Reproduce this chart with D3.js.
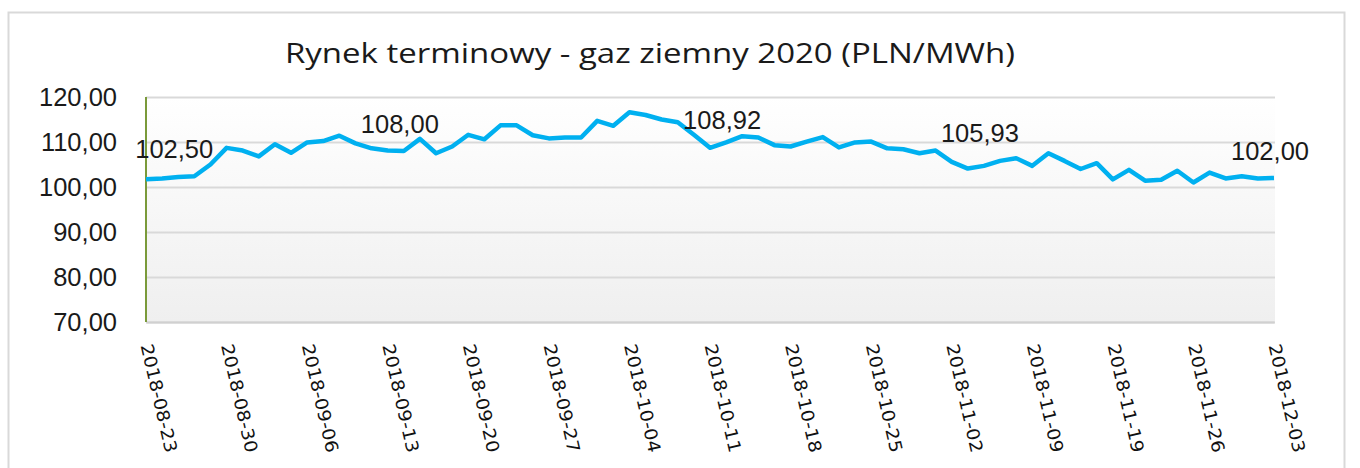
<!DOCTYPE html>
<html>
<head>
<meta charset="utf-8">
<script src="https://cdn.jsdelivr.net/npm/d3@7"></script>
<style>
  body { margin: 0; background: #fff; }
  svg { display: block; }
</style>
</head>
<body>
<svg id="chart" width="1360" height="468"></svg>
<script>
const title = "Rynek terminowy - gaz ziemny 2020 (PLN/MWh)";

// trading days (category axis)
const dates = [
  "2018-08-23", "2018-08-24", "2018-08-27", "2018-08-28", "2018-08-29",
  "2018-08-30", "2018-08-31", "2018-09-03", "2018-09-04", "2018-09-05",
  "2018-09-06", "2018-09-07", "2018-09-10", "2018-09-11", "2018-09-12",
  "2018-09-13", "2018-09-14", "2018-09-17", "2018-09-18", "2018-09-19",
  "2018-09-20", "2018-09-21", "2018-09-24", "2018-09-25", "2018-09-26",
  "2018-09-27", "2018-09-28", "2018-10-01", "2018-10-02", "2018-10-03",
  "2018-10-04", "2018-10-05", "2018-10-08", "2018-10-09", "2018-10-10",
  "2018-10-11", "2018-10-12", "2018-10-15", "2018-10-16", "2018-10-17",
  "2018-10-18", "2018-10-19", "2018-10-22", "2018-10-23", "2018-10-24",
  "2018-10-25", "2018-10-26", "2018-10-29", "2018-10-30", "2018-10-31",
  "2018-11-02", "2018-11-05", "2018-11-06", "2018-11-07", "2018-11-08",
  "2018-11-09", "2018-11-13", "2018-11-14", "2018-11-15", "2018-11-16",
  "2018-11-19", "2018-11-20", "2018-11-21", "2018-11-22", "2018-11-23",
  "2018-11-26", "2018-11-27", "2018-11-28", "2018-11-29", "2018-11-30",
  "2018-12-03",
];

const prices = [
  101.7, 101.9, 102.2, 102.4, 105.0, 108.7, 108.1, 106.8, 109.5, 107.6,
  109.9, 110.2, 111.4, 109.7, 108.6, 108.1, 108.0, 110.7, 107.5, 109.0,
  111.6, 110.6, 113.7, 113.7, 111.5, 110.8, 111.0, 111.0, 114.7, 113.6,
  116.6, 116.0, 115.0, 114.4, 111.6, 108.7, 109.9, 111.3, 111.0, 109.3,
  109.0, 110.1, 111.1, 108.8, 109.9, 110.1, 108.6, 108.4, 107.5, 108.1,
  105.6, 104.1, 104.7, 105.8, 106.4, 104.7, 107.5, 105.8, 104.0, 105.3,
  101.7, 103.8, 101.4, 101.6, 103.6, 101.0, 103.2, 101.9, 102.4, 101.9,
  102.0,
];

const yTicks = [70, 80, 90, 100, 110, 120];
const xTickDates = dates.filter((d, i) => i % 5 === 0);

// data labels: category and the value shown
const labelDates = ["2018-08-27", "2018-09-14", "2018-10-12", "2018-11-06", "2018-12-03"];
const labelValues = [102.5, 108.0, 108.92, 105.93, 102.0];

const pl = d3.formatLocale({ decimal: ",", thousands: " ", grouping: [3], currency: ["", " zł"] });
const fmt = pl.format(".2f");

const svg = d3.select("#chart");
const margin = { left: 146, right: 1274, top: 97, bottom: 322 };

const x = d3.scalePoint().domain(dates).range([margin.left, margin.right]);
const y = d3.scaleLinear().domain([70, 120]).range([margin.bottom, margin.top]);

// outer chart frame
svg.append("rect")
  .attr("x", 8.5).attr("y", 12.5)
  .attr("width", 1336).attr("height", 480)
  .attr("fill", "#fff")
  .attr("stroke", "#d9d9d9")
  .attr("stroke-width", 2);

// plot area gradient
const grad = svg.append("defs").append("linearGradient")
  .attr("id", "plotbg").attr("x1", 0).attr("y1", 0).attr("x2", 0).attr("y2", 1);
grad.append("stop").attr("offset", "0%").attr("stop-color", "#ffffff");
grad.append("stop").attr("offset", "100%").attr("stop-color", "#efefef");

svg.append("rect")
  .attr("x", margin.left).attr("y", margin.top)
  .attr("width", margin.right - margin.left + 1)
  .attr("height", margin.bottom - margin.top)
  .attr("fill", "url(#plotbg)");

// title
svg.append("text")
  .attr("x", 650).attr("y", 63)
  .attr("text-anchor", "middle")
  .attr("font-family", "'Open Sans', 'Noto Sans', sans-serif")
  .attr("font-size", 28)
  .attr("fill", "#1a1a1a")
  .attr("textLength", 730)
  .attr("lengthAdjust", "spacingAndGlyphs")
  .text(title);

// y axis: gridlines + labels
const yAxis = svg.append("g")
  .attr("transform", `translate(${margin.left},0)`)
  .call(d3.axisLeft(y).tickValues(yTicks).tickFormat(fmt)
    .tickSize(-(margin.right - margin.left + 1)).tickPadding(29));
yAxis.select(".domain").remove();
yAxis.selectAll(".tick line")
  .attr("stroke", "#d9d9d9")
  .attr("stroke-width", 2);
yAxis.selectAll(".tick text")
  .attr("font-family", "'Liberation Sans', Arial, sans-serif")
  .attr("font-size", 25.5)
  .attr("fill", "#1a1a1a");

// x axis
const xAxis = svg.append("g")
  .attr("transform", `translate(0,${margin.bottom})`)
  .call(d3.axisBottom(x).tickValues(xTickDates).tickSize(0).tickPadding(0));
xAxis.select(".domain")
  .attr("stroke", "#d0d0d0")
  .attr("stroke-width", 2);
xAxis.selectAll(".tick text")
  .attr("font-family", "'DejaVu Sans', sans-serif")
  .attr("font-size", 17.5)
  .attr("fill", "#111")
  .attr("text-anchor", "start")
  .attr("y", 0)
  .attr("dy", "0.35em")
  .attr("transform", "translate(0,22) rotate(77)")
  .attr("textLength", 111)
  .attr("lengthAdjust", "spacingAndGlyphs");

// green value axis line
svg.append("line")
  .attr("x1", margin.left).attr("x2", margin.left)
  .attr("y1", margin.top).attr("y2", margin.bottom)
  .attr("stroke", "#7a9a3a")
  .attr("stroke-width", 2);

// series
const series = dates.map((d, i) => ({ date: d, value: prices[i] }));
svg.append("path")
  .datum(series)
  .attr("fill", "none")
  .attr("stroke", "#00b0f0")
  .attr("stroke-width", 4.5)
  .attr("stroke-linejoin", "round")
  .attr("d", d3.line().x((d) => x(d.date)).y((d) => y(d.value)));

// data labels
svg.append("g")
  .selectAll("text")
  .data(labelDates.map((d, i) => ({ date: d, value: labelValues[i] })))
  .join("text")
  .attr("x", (d) => x(d.date) - 4)
  .attr("y", (d) => y(d.value) - 18)
  .attr("text-anchor", "middle")
  .attr("font-family", "'Liberation Sans', Arial, sans-serif")
  .attr("font-size", 25.5)
  .attr("fill", "#1a1a1a")
  .text((d) => fmt(d.value));
</script>
</body>
</html>
